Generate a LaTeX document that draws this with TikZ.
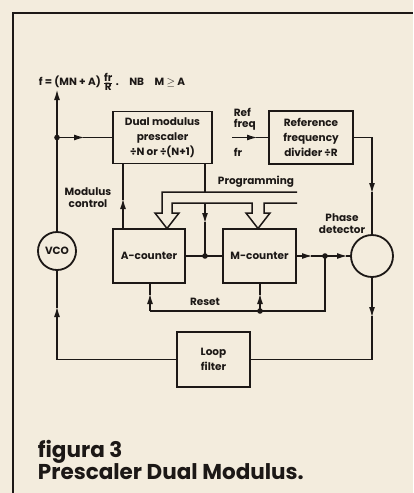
\documentclass[tikz,border=0pt]{standalone}
\usepackage{fontspec}
\setmainfont{Poppins}
\usetikzlibrary{arrows.meta}
\definecolor{paper}{HTML}{F3ECDD}
\definecolor{ink}{HTML}{1C1816}
\begin{document}
\begin{tikzpicture}[x=1pt,y=-1pt, line width=1.8pt, draw=ink, text=ink,
  lbl/.style={inner sep=0pt, font=\fontsize{10.5}{12}\selectfont\bfseries, align=center},
  blk/.style={draw, inner sep=0pt, outer sep=0pt, align=center, font=\fontsize{10.5}{15}\selectfont\bfseries},
  circ/.style={draw, circle, inner sep=0pt, outer sep=0pt, font=\fontsize{10.5}{12}\selectfont\bfseries},
  ar/.style={-{Latex[length=11pt,width=6pt]}},
  captext/.style={anchor=base west, inner sep=0pt, font=\fontsize{21.5}{24}\selectfont\bfseries},
  bus/.style={line width=1.5pt, line join=miter}]
\fill[paper] (0,0) rectangle (413,493);
\useasboundingbox (0,0) rectangle (413,493);
\draw[line width=1.5pt] (13,493) -- (13,13) -- (413,13);

% blocks
\node[blk, minimum width=99pt, minimum height=52pt] (pre) at (162.5,137.5) {Dual modulus\\prescaler\\÷N or ÷(N+1)};
\node[blk, minimum width=84pt, minimum height=53pt] (ref) at (311,137.5) {Reference\\frequency\\divider ÷R};
\node[blk, minimum width=72pt, minimum height=54pt] (acnt) at (149,256) {A-counter};
\node[blk, minimum width=73pt, minimum height=54pt] (mcnt) at (259.5,256) {M-counter};
\node[blk, minimum width=73pt, minimum height=55pt] (lf) at (213.5,359.5) {Loop\\filter};
\node[circ, minimum size=38pt] (vco) at (57,251) {VCO};
\node[circ, minimum size=42pt] (pd) at (372,256) {};

% labels
\node[lbl, anchor=west] (frm) at (38,82) {f = (MN + A) $\frac{\mbox{fr}}{\mbox{R}}$ .\quad NB\quad M $\geq$ A};
\node[lbl, anchor=west] (lref) at (233,112) {Ref};
\node[lbl, anchor=west] (lfreq) at (233,125) {freq};
\node[lbl, anchor=west] (lfr) at (233,152) {fr};
\node[lbl] (lprog) at (256,182) {Programming};
\node[lbl] (lmod) at (88,198) {Modulus\\control};
\node[lbl] (lpd) at (342,224) {Phase\\detector};
\node[lbl] (lreset) at (205,302) {Reset};
\node[captext] (cap1) at (37,457) {figura 3};
\node[captext] (cap2) at (37,479) {Prescaler Dual Modulus.};

% coordinates
\coordinate (d1) at (57,137.5);
\coordinate (rfin) at (232,137.5);
\coordinate (dclk) at (205,256);
\coordinate (dout) at (325,256);
\coordinate (dres) at (260,311);

% VCO output
\draw[ar] (vco.north) -- (57,89);
\draw[ar] (d1) -- (85,137.5);
\draw (83,137.5) -- (pre.west);
% reference input
\draw[ar] (rfin) -- (258,137.5);
\draw (256,137.5) -- (ref.west);
% reference to phase detector
\draw[ar] (ref.east) -| (372,194);
\draw (372,192) -- (pd.north);
% phase detector to loop filter
\draw[ar] (pd.south) -- (372,318);
\draw (372,316) |- (lf.east);
% loop filter to VCO
\draw[ar] (lf.west) -| (57,306);
\draw (57,308) -- (vco.south);
% modulus control
\draw[ar] (123,229) -- (123,198);
\draw (123,200) -- (123,163);
% prescaler output to counters
\draw (205,163) -- (205,192);
\draw[ar] (205,203) -- (205,224);
\draw (205,222) -- (dclk);
\draw (acnt.east) -- (mcnt.west);
% M-counter output
\draw[ar] (mcnt.east) -- (313,256);
\draw[ar] (311,256) -- (348,256);
\draw (346,256) -- (pd.west);
% reset
\draw (dout) -- (325,311) -- (150,311);
\draw[ar] (150,311) -- (150,293);
\draw (150,295) -- (150,283);
\draw[ar] (dres) -- (260,293);
\draw (260,295) -- (260,283);
% programming bus
\draw[bus] (297,192) -- (162,192) -- (162,213) -- (155,213) -- (167,228.5) -- (179,213) -- (172,213) -- (172,203) -- (252,203) -- (252,213) -- (246,213) -- (258,228.5) -- (270,213) -- (264,213) -- (264,203) -- (297,203);
% dots
\fill[ink] (d1) circle (2.8pt);
\fill[ink] (dclk) circle (2.8pt);
\fill[ink] (dout) circle (2.8pt);
\fill[ink] (dres) circle (2.8pt);
\end{tikzpicture}
\end{document}
